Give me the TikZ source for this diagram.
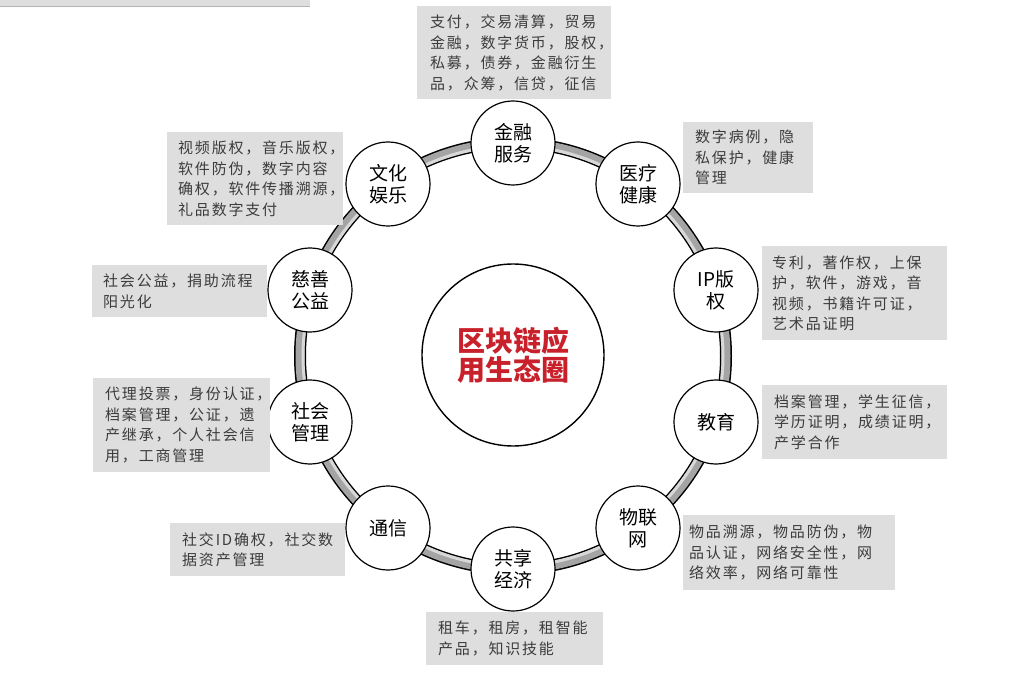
\documentclass[tikz,border=0pt]{standalone}
\usepackage{fontspec}
\newfontfamily\cjk{Noto Sans CJK SC}
\newfontfamily\cjkbox[LetterSpace=12]{Noto Sans CJK SC}
\definecolor{boxgray}{HTML}{DEDEDE}
\definecolor{boxtxt}{HTML}{3C3C3C}
\definecolor{ringgray}{HTML}{A4A4A4}
\definecolor{ringlight}{HTML}{D8D8D8}
\definecolor{hubred}{HTML}{C8212B}
\definecolor{barline}{HTML}{B4B4B4}
\tikzset{
  sat/.style={circle, draw=black, line width=1.2pt, fill=white, minimum size=84pt, inner sep=0pt, align=center, font=\cjk\fontsize{19}{22}\selectfont},
  hubnode/.style={circle, draw=black, line width=1.4pt, fill=white, minimum size=182pt, inner sep=0pt, align=center, text=hubred, font=\cjk\bfseries\fontsize{28}{29}\selectfont},
  infobox/.style={rectangle, fill=boxgray, draw=none, inner sep=0pt, anchor=north west},
  infotext/.style={anchor=west, align=left, inner sep=0pt, text=boxtxt, font=\cjkbox\fontsize{15}{20.5}\selectfont}
}
\begin{document}
\begin{tikzpicture}[x=1pt,y=-1pt]
\useasboundingbox (0,0) rectangle (1013,687);
% top-left grey strip
\fill[boxgray] (0,0) rectangle (310,7);
\draw[barline, line width=1pt] (0,7) -- (310,7);
% ring
\coordinate (O) at (513,356);
\draw[black, line width=12pt] (O) circle[radius=213];
\draw[ringgray, line width=9pt] (O) circle[radius=213];
\draw[ringlight, line width=3pt] (O) circle[radius=210];
% hub
\node[hubnode] (hub) at (513,355) {区块链应\\用生态圈};
% satellites
\node[sat] (fin)  at (513,143) {金融\\服务};
\node[sat] (med)  at (638,184) {医疗\\健康};
\node[sat] (ip)   at (716,290) {IP版\\权};
\node[sat] (edu)  at (716,422) {教育};
\node[sat] (iot)  at (638,528) {物联\\网};
\node[sat] (shr)  at (513,569) {共享\\经济};
\node[sat] (com)  at (388,528) {通信};
\node[sat] (soc)  at (310,422) {社会\\管理};
\node[sat] (cha)  at (310,290) {慈善\\公益};
\node[sat] (cul)  at (388,184) {文化\\娱乐};
% info boxes
\node[infobox, minimum width=194pt, minimum height=93pt] (bfin) at (417,6) {};
\node[infotext] (tfin) at ([xshift=13pt]bfin.west) {支付，交易清算，贸易\\金融，数字货币，股权，\\私募，债券，金融衍生\\品，众筹，信贷，征信};
\node[infobox, minimum width=176pt, minimum height=93pt] (bcul) at (167,132) {};
\node[infotext] (tcul) at ([xshift=11pt]bcul.west) {视频版权，音乐版权，\\软件防伪，数字内容\\确权，软件传播溯源，\\礼品数字支付};
\node[infobox, minimum width=130pt, minimum height=71pt] (bmed) at (683,122) {};
\node[infotext] (tmed) at ([xshift=12pt]bmed.west) {数字病例，隐\\私保护，健康\\管理};
\node[infobox, minimum width=185pt, minimum height=94pt] (bip) at (762,246) {};
\node[infotext] (tip) at ([xshift=10pt]bip.west) {专利，著作权，上保\\护，软件，游戏，音\\视频，书籍许可证，\\艺术品证明};
\node[infobox, minimum width=175pt, minimum height=52pt] (bcha) at (92,265) {};
\node[infotext] (tcha) at ([xshift=11pt]bcha.west) {社会公益，捐助流程\\阳光化};
\node[infobox, minimum width=177pt, minimum height=94pt] (bsoc) at (93,378) {};
\node[infotext] (tsoc) at ([xshift=12pt]bsoc.west) {代理投票，身份认证，\\档案管理，公证，遗\\产继承，个人社会信\\用，工商管理};
\node[infobox, minimum width=185pt, minimum height=74pt] (bedu) at (762,385) {};
\node[infotext] (tedu) at ([xshift=12pt]bedu.west) {档案管理，学生征信，\\学历证明，成绩证明，\\产学合作};
\node[infobox, minimum width=212pt, minimum height=75pt] (biot) at (683,515) {};
\node[infotext] (tiot) at ([xshift=6pt]biot.west) {物品溯源，物品防伪，物\\品认证，网络安全性，网\\络效率，网络可靠性};
\node[infobox, minimum width=175pt, minimum height=53pt] (bcom) at (170,523) {};
\node[infotext] (tcom) at ([xshift=12pt]bcom.west) {社交ID确权，社交数\\据资产管理};
\node[infobox, minimum width=177pt, minimum height=53pt] (bshr) at (426,612) {};
\node[infotext] (tshr) at ([xshift=12pt]bshr.west) {租车，租房，租智能\\产品，知识技能};
\end{tikzpicture}
\end{document}
